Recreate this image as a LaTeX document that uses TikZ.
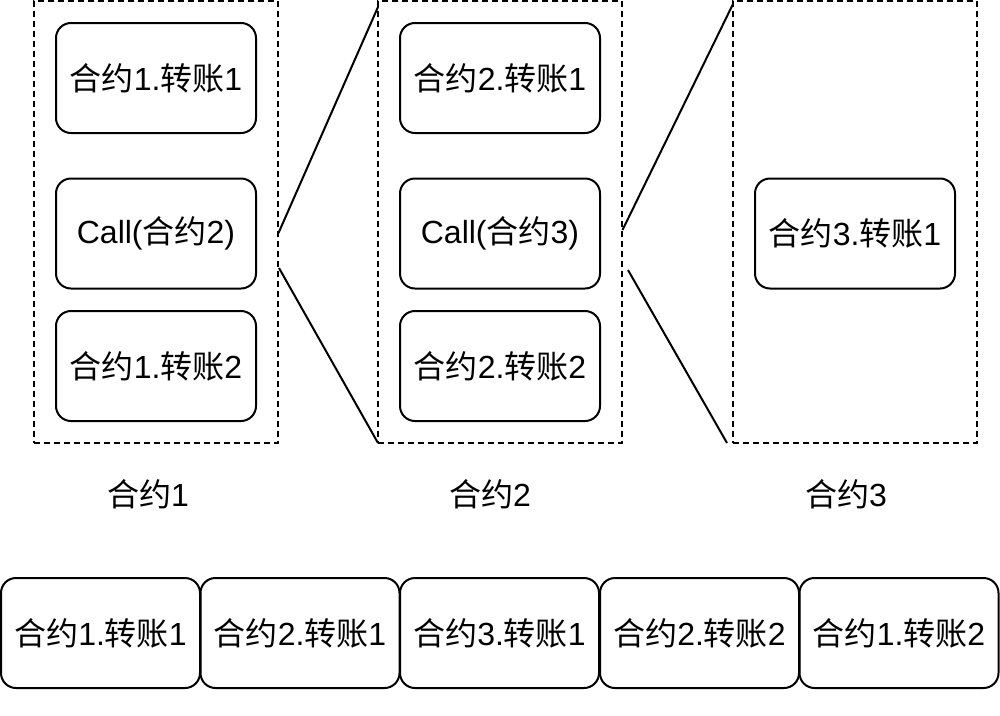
\documentclass[tikz,border=0pt]{standalone}
\usepackage{fontspec}
\setmainfont{Liberation Sans}
\newfontfamily\cjk{Noto Sans CJK SC}
\newcommand\hy{{\cjk 合约}}
\newcommand\zz{{\cjk 转账}}
\tikzset{
  rbox/.style={draw, line width=2pt, rounded corners=15pt, minimum width=200pt, minimum height=110pt, inner sep=0pt, font=\fontsize{32}{32}\selectfont},
  dbox/.style={draw, line width=2pt, dash pattern=on 6pt off 4pt, minimum width=244pt, minimum height=442pt, inner sep=0pt},
  lbl/.style={font=\fontsize{32}{32}\selectfont, inner sep=0pt},
  link/.style={line width=2pt}
}
\begin{document}
\begin{tikzpicture}[x=1pt,y=-1pt]
\useasboundingbox (0,0) rectangle (1000,715);
% containers
\node[dbox] (c1) at (156,222) {};
\node[dbox] (c2) at (500,222) {};
\node[dbox] (c3) at (855,222) {};
% contract 1
\node[rbox] (a1) at (156,78) {\hy1.\zz1};
\node[rbox] (a2) at (156,233.5) {Call(\hy2)};
\node[rbox] (a3) at (156,366) {\hy1.\zz2};
% contract 2
\node[rbox] (b1) at (500,78) {\hy2.\zz1};
\node[rbox] (b2) at (500,233.5) {Call(\hy3)};
\node[rbox] (b3) at (500,366) {\hy2.\zz2};
% contract 3
\node[rbox] (d1) at (855,233.5) {\hy3.\zz1};
% labels
\node[lbl] (l1) at (148,494) {\hy1};
\node[lbl] (l2) at (490,494) {\hy2};
\node[lbl] (l3) at (846,494) {\hy3};
% connectors
\coordinate (p1) at (278.5,233);
\coordinate (p2) at (378,7);
\coordinate (p3) at (279,268);
\coordinate (p4) at (378,443);
\coordinate (q1) at (622.5,230);
\coordinate (q2) at (733,4);
\coordinate (q3) at (628,270);
\coordinate (q4) at (727,443);
\draw[link] (p1) -- (p2);
\draw[link] (p3) -- (p4);
\draw[link] (q1) -- (q2);
\draw[link] (q3) -- (q4);
% sequence
\node[rbox, minimum width=199pt] (s1) at (100.5,633) {\hy1.\zz1};
\node[rbox, minimum width=199pt] (s2) at (300,633) {\hy2.\zz1};
\node[rbox, minimum width=199pt] (s3) at (499.5,633) {\hy3.\zz1};
\node[rbox, minimum width=199pt] (s4) at (699.5,633) {\hy2.\zz2};
\node[rbox, minimum width=199pt] (s5) at (899,633) {\hy1.\zz2};
\end{tikzpicture}
\end{document}
